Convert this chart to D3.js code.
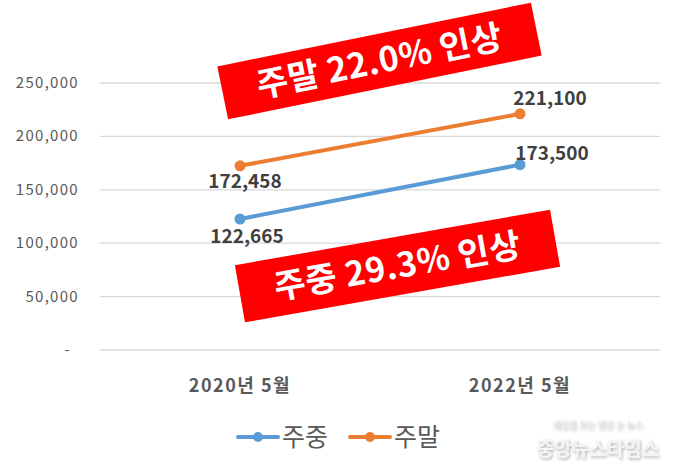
<!DOCTYPE html>
<html>
<head>
<meta charset="utf-8">
<script src="https://cdn.jsdelivr.net/npm/d3@7/dist/d3.min.js"></script>
<style>
  html, body { margin: 0; padding: 0; background: #fff; }
  svg { display: block; font-family: "Noto Sans CJK KR", "Noto Sans", sans-serif; }
</style>
</head>
<body>
<svg id="chart" width="680" height="471"></svg>
<script>
const categories = ["2020년 5월", "2022년 5월"];
const weekday = [122665, 173500];   // 주중
const weekend = [172458, 221100];   // 주말
const seriesNames = ["주중", "주말"];
const yTicks = [0, 50000, 100000, 150000, 200000, 250000];
const banners = ["주말 22.0% 인상", "주중 29.3% 인상"];
const watermarkSub = "세상을 보는 밝은 눈 뉴스";
const watermarkMain = "중앙뉴스타임스";

const colors = ["#5b9bd5", "#ed7d31"];
const svg = d3.select("#chart");

const x = d3.scalePoint().domain(categories).range([100, 660]).padding(0.5);
const y = d3.scaleLinear().domain([0, 250000]).range([350, 83]);

// gridlines
svg.append("g").selectAll("line").data(yTicks).join("line")
  .attr("x1", 100).attr("x2", 660)
  .attr("y1", d => y(d)).attr("y2", d => y(d))
  .attr("stroke", "#d9d9d9").attr("stroke-width", 1.3);

// y axis labels
const fmt = d3.format(",");
svg.append("g").selectAll("text").data(yTicks).join("text")
  .attr("x", d => d === 0 ? 71 : 79)
  .attr("y", d => y(d) + 5)
  .attr("text-anchor", "end")
  .attr("font-size", 15)
  .attr("letter-spacing", 1.3)
  .attr("fill", "#595959")
  .text(d => d === 0 ? "-" : fmt(d));

// x axis labels
svg.append("g").selectAll("text").data(categories).join("text")
  .attr("x", d => x(d))
  .attr("y", 392)
  .attr("text-anchor", "middle")
  .attr("font-size", 18)
  .attr("letter-spacing", 1.5)
  .attr("font-weight", "bold")
  .attr("fill", "#595959")
  .text(d => d);

// banners
const bannerCfg = [
  { cx: 379.5, cy: 61, w: 320, h: 54, rot: -11.5 },
  { cx: 397.5, cy: 266, w: 320, h: 58, rot: -10 }
];
bannerCfg.forEach((b, i) => {
  const g = svg.append("g").attr("transform", `translate(${b.cx},${b.cy}) rotate(${b.rot})`);
  g.append("rect").attr("x", -b.w / 2).attr("y", -b.h / 2).attr("width", b.w).attr("height", b.h)
    .attr("fill", "#ff0000");
  g.append("text").attr("x", 0).attr("y", 12).attr("text-anchor", "middle")
    .attr("font-size", 34).attr("letter-spacing", 0.5).attr("font-weight", "bold").attr("fill", "#ffffff")
    .text(banners[i]);
});

// lines
const series = [weekday, weekend];
const line = d3.line().x((d, i) => x(categories[i])).y(d => y(d));
series.forEach((s, k) => {
  svg.append("path").datum(s).attr("d", line)
    .attr("fill", "none").attr("stroke", colors[k]).attr("stroke-width", 4).attr("stroke-linecap", "round");
  svg.append("g").selectAll("circle").data(s).join("circle")
    .attr("cx", (d, i) => x(categories[i])).attr("cy", d => y(d)).attr("r", 5.5)
    .attr("fill", colors[k]);
});

// data labels
const labelFmt = d3.format(",");
const labelPos = [
  // weekday
  [{ dx: 7, dy: 24, anchor: "middle" }, { dx: 32, dy: -5, anchor: "middle" }],
  // weekend
  [{ dx: 5, dy: 22, anchor: "middle" }, { dx: 30, dy: -9, anchor: "middle" }]
];
series.forEach((s, k) => {
  svg.append("g").selectAll("text").data(s).join("text")
    .attr("x", (d, i) => x(categories[i]) + labelPos[k][i].dx)
    .attr("y", (d, i) => y(d) + labelPos[k][i].dy)
    .attr("text-anchor", (d, i) => labelPos[k][i].anchor)
    .attr("font-size", 19).attr("font-weight", "bold").attr("fill", "#404040")
    .text(d => labelFmt(d));
});

// legend
const legend = svg.append("g");
const legX = [238, 350];
seriesNames.forEach((n, k) => {
  const g = legend.append("g").attr("transform", `translate(${legX[k]},437)`);
  g.append("line").attr("x1", 0).attr("x2", 40).attr("y1", 0).attr("y2", 0)
    .attr("stroke", colors[k]).attr("stroke-width", 4).attr("stroke-linecap", "round");
  g.append("circle").attr("cx", 20).attr("cy", 0).attr("r", 5).attr("fill", colors[k]);
  g.append("text").attr("x", 44).attr("y", 9).attr("font-size", 25).attr("fill", "#595959").text(n);
});

// watermark
const defs = svg.append("defs");
const f = defs.append("filter").attr("id", "wmShadow").attr("x", "-20%").attr("y", "-50%").attr("width", "140%").attr("height", "200%");
f.append("feDropShadow").attr("dx", 1).attr("dy", 1.5).attr("stdDeviation", 1.5).attr("flood-color", "#888").attr("flood-opacity", 0.7);
svg.append("text").attr("x", 598).attr("y", 428).attr("text-anchor", "middle")
  .attr("font-size", 9).attr("fill", "#e6e6e6").attr("filter", "url(#wmShadow)").text(watermarkSub);
svg.append("text").attr("x", 598).attr("y", 456).attr("text-anchor", "middle")
  .attr("font-size", 19).attr("font-weight", "bold").attr("fill", "#f4f4f4").attr("filter", "url(#wmShadow)")
  .text(watermarkMain);
</script>
</body>
</html>
